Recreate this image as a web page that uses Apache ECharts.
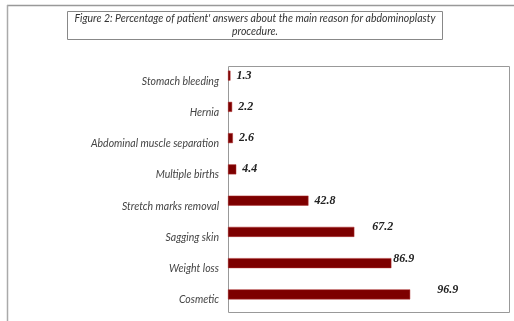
<!DOCTYPE html>
<html><head><meta charset="utf-8">
<script src="https://cdn.jsdelivr.net/npm/echarts@6/dist/echarts.min.js"></script>
<style>html,body{margin:0;padding:0;background:#fff}#c{width:514px;height:321px}</style>
</head><body><div id="c"></div>
<script>
const categories = ['Stomach bleeding','Hernia','Abdominal muscle separation','Multiple births','Stretch marks removal','Sagging skin','Weight loss','Cosmetic'];
const values = [1.3, 2.2, 2.6, 4.4, 42.8, 67.2, 86.9, 96.9];
const labelOffsets = [[0,0],[0,0],[0,0],[0,0],[0,0],[12,-5],[-4,-4],[21,-4]];
const titleText = "Figure 2: Percentage of patient' answers about the main reason for abdominoplasty\nprocedure.";

const chart = echarts.init(document.getElementById('c'));
chart.setOption({
  animation: false,
  graphic: [
    {type: 'line', shape: {x1: 7, y1: 5.5, x2: 514, y2: 5.5}, style: {stroke: '#999', lineWidth: 1.5}},
    {type: 'line', shape: {x1: 7.5, y1: 5, x2: 7.5, y2: 321}, style: {stroke: '#aaa', lineWidth: 1.5}},
    {type: 'rect', shape: {x: 67.5, y: 11.5, width: 375, height: 28}, style: {fill: 'none', stroke: '#888', lineWidth: 1}},
    {type: 'text', x: 255, y: 25.5, style: {text: titleText, textAlign: 'center', textVerticalAlign: 'middle',
      fontFamily: 'Lato', fontStyle: 'italic', fontSize: 10.5, lineHeight: 13, fill: '#333'}},
    {type: 'rect', shape: {x: 228.5, y: 66.5, width: 281, height: 246}, style: {fill: 'none', stroke: '#999', lineWidth: 1}}
  ],
  grid: {left: 228, top: 60, right: 4, bottom: 11, show: false},
  xAxis: {type: 'value', min: 0, max: 150, show: false},
  yAxis: {
    type: 'category', data: categories, inverse: true,
    axisLine: {show: false},
    axisTick: {show: false},
    axisLabel: {fontFamily: 'Lato', fontStyle: 'italic', fontSize: 10.5, color: '#444', margin: 9, verticalAlign: 'top', padding: [0, 0, 0, 0]}
  },
  series: [{
    type: 'bar', barWidth: 10,
    itemStyle: {color: '#7d0000', borderColor: '#b03030', borderWidth: 0.5},
    data: values.map((v, i) => ({value: v, label: {offset: labelOffsets[i]}})),
    label: {show: true, position: 'right', distance: 6, fontFamily: 'Liberation Serif', fontStyle: 'italic', fontWeight: 'bold', fontSize: 12, color: '#222'}
  }]
});
</script></body></html>
